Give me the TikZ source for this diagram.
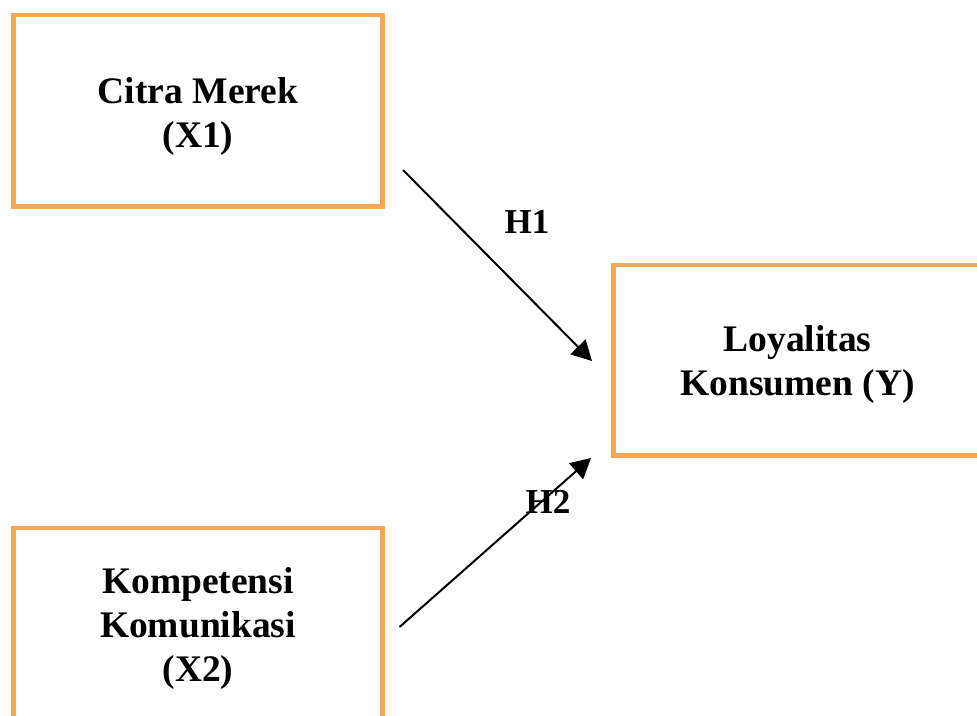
\documentclass[tikz,border=0pt]{standalone}
\usepackage{fontspec}
\setmainfont{Liberation Serif}
\usetikzlibrary{arrows.meta,calc}
\definecolor{boxorange}{RGB}{249,167,90}
\tikzset{
  boxnode/.style={draw=boxorange, line width=4.5pt, rectangle, inner sep=0pt},
  lbl/.style={align=center, inner sep=0pt, font=\fontsize{37.5}{44}\selectfont\bfseries},
  hlbl/.style={inner sep=0pt, font=\fontsize{35}{42}\selectfont\bfseries},
  arr/.style={line width=2pt, -{Triangle[length=20pt,width=21pt]}}
}
\begin{document}
\begin{tikzpicture}[x=1pt,y=-1pt]
\useasboundingbox (0,0) rectangle (977,715);
\clip (0,0) rectangle (977,715);
% boxes
\node[boxnode, minimum width=369pt, minimum height=191.5pt] (x1) at (198,110.8) {};
\node[boxnode, minimum width=368pt, minimum height=190.5pt] (y) at (797.5,360.3) {};
\node[boxnode, minimum width=369pt, minimum height=190pt] (x2) at (198,623) {};
% texts
\node[lbl] (t1) at (198,116) {Citra Merek\\(X1)};
\node[lbl] (ty) at (797.5,364.5) {Loyalitas\\Konsumen (Y)};
\node[lbl] (t2) at (198,628.5) {Kompetensi\\Komunikasi\\(X2)};
% arrow ends
\coordinate (s1) at (403,170);
\coordinate (e1) at (592,361);
\coordinate (s2) at (399.5,627);
\coordinate (e2) at (591,458);
\draw[arr] (s1) -- (e1);
\draw[arr] (s2) -- (e2);
% labels
\node[hlbl] (h1) at (527,222) {H1};
\node[hlbl] (h2) at (548,502) {H2};
\end{tikzpicture}
\end{document}
